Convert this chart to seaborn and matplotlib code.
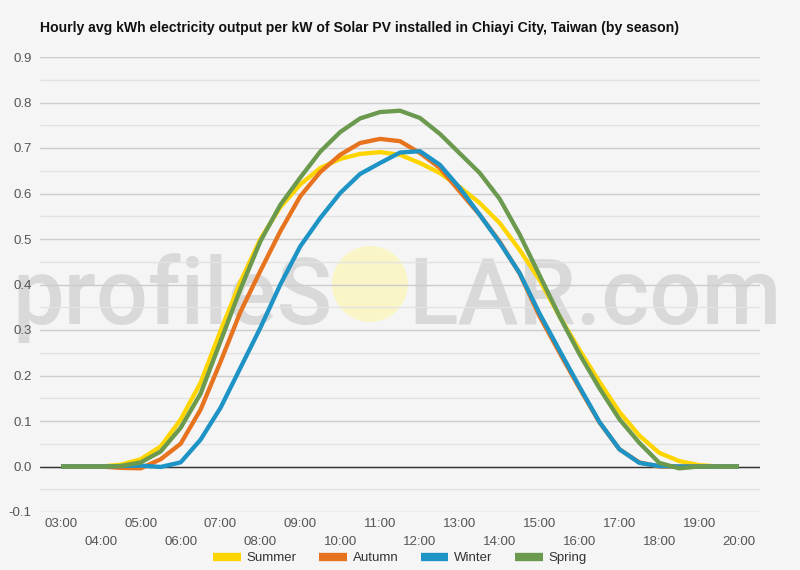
import numpy as np
import pandas as pd
import matplotlib
matplotlib.use("Agg")
import matplotlib.pyplot as plt
from matplotlib.patches import Circle
import seaborn as sns

sns.set_style("white")
plt.rcParams['font.family'] = ['Liberation Sans', 'DejaVu Sans']

# half-hourly readings, 03:00 .. 20:00
hours = np.arange(3.0, 20.5, 0.5)

summer = [0, 0, 0, 0.004, 0.016, 0.044, 0.103, 0.184, 0.298, 0.406, 0.50, 0.57, 0.62, 0.656,
          0.676, 0.687, 0.691, 0.685, 0.667, 0.645, 0.614, 0.579, 0.535, 0.476, 0.41, 0.33,
          0.256, 0.186, 0.12, 0.068, 0.03, 0.012, 0.003, 0, 0]
autumn = [0, 0, 0, -0.003, -0.004, 0.016, 0.05, 0.125, 0.23, 0.34, 0.43, 0.517, 0.594, 0.647,
          0.685, 0.711, 0.72, 0.715, 0.689, 0.656, 0.604, 0.553, 0.494, 0.424, 0.33, 0.25,
          0.172, 0.097, 0.038, 0.009, 0.0, 0, 0, 0, 0]
winter = [0, 0, 0, 0.001, 0.002, -0.001, 0.009, 0.059, 0.129, 0.217, 0.305, 0.40, 0.484, 0.546,
          0.601, 0.643, 0.667, 0.69, 0.693, 0.663, 0.612, 0.553, 0.492, 0.425, 0.336, 0.255,
          0.175, 0.098, 0.038, 0.008, 0.001, 0, 0, 0, 0]
spring = [0, 0, 0, 0.001, 0.009, 0.033, 0.085, 0.16, 0.275, 0.39, 0.495, 0.575, 0.635, 0.692,
          0.735, 0.765, 0.779, 0.782, 0.766, 0.731, 0.688, 0.645, 0.588, 0.51, 0.42, 0.33,
          0.247, 0.172, 0.104, 0.052, 0.008, -0.004, 0, 0, 0]

seasons = ["Summer", "Autumn", "Winter", "Spring"]
colors = ["#FFD500", "#E8731E", "#1E93C5", "#6B9A4E"]

odd_labels = ["03:00", "05:00", "07:00", "09:00", "11:00", "13:00", "15:00", "17:00", "19:00"]
even_labels = ["04:00", "06:00", "08:00", "10:00", "12:00", "14:00", "16:00", "18:00", "20:00"]

title = "Hourly avg kWh electricity output per kW of Solar PV installed in Chiayi City, Taiwan (by season)"

df = pd.DataFrame({
    "hour": np.tile(hours, 4),
    "kwh": summer + autumn + winter + spring,
    "season": np.repeat(seasons, len(hours)),
})

bg = "#f5f5f5"
fig = plt.figure(figsize=(8, 5.7), dpi=100, facecolor=bg)
ax = fig.add_axes([0.05, 58 / 570, 0.90, 455 / 570])
ax.set_facecolor(bg)
ax.set_axisbelow(True)

# watermark behind everything
wm = dict(fontsize=66, color="#d9d9d9", family=["Roboto", "DejaVu Sans"],
          fontweight="medium", va="baseline", zorder=0.2, transform=fig.transFigure,
          clip_on=False)
ax.text(332 / 800, 1 - 324 / 570, "profileS", ha="right", **wm)
ax.text(408 / 800, 1 - 324 / 570, "LAR.com", ha="left", **wm)
ax.add_patch(Circle((3.70, 5.7 - 2.84), 0.38, transform=fig.dpi_scale_trans,
                    facecolor="#faf5c6", edgecolor="none", zorder=0.3, clip_on=False))

sns.lineplot(data=df, x="hour", y="kwh", hue="season", hue_order=seasons,
             palette=colors, linewidth=3.1, ax=ax, solid_capstyle="butt",
             solid_joinstyle="round", zorder=3)

ax.set_xlim(2.474, 20.526)
ax.set_ylim(-0.1, 0.9)
yt = np.round(np.arange(-0.1, 0.91, 0.1), 1)
ax.set_yticks(yt)
ax.set_yticklabels([f"{v:.1f}" for v in yt])
ax.set_yticks(np.round(np.arange(-0.05, 0.9, 0.1), 2), minor=True)
ax.grid(which="major", axis="y", color="#cccccc", linewidth=1)
ax.grid(which="minor", axis="y", color="#e3e3e3", linewidth=1)
ax.grid(axis="x", visible=False)
ax.axhline(0, color="#333333", linewidth=1, zorder=2)

ax.set_xticks(np.arange(3, 20, 2), odd_labels)
ax.set_xticks(np.arange(4, 21, 2), even_labels, minor=True)
ax.tick_params(axis="x", which="major", length=0, pad=4, labelsize=9.5, labelcolor="#555555")
ax.tick_params(axis="x", which="minor", length=0, pad=17.5, labelsize=9.5, labelcolor="#555555")
ax.tick_params(axis="y", which="both", length=0, pad=6, labelsize=9.5, labelcolor="#555555")
ax.set_xlabel("")
ax.set_ylabel("")
for s in ax.spines.values():
    s.set_visible(False)

fig.text(40 / 800, 1 - 28 / 570, title, fontsize=10.1, fontweight="bold", ha="left",
         va="center", color="#111111")

handles, labels = ax.get_legend_handles_labels()
ax.get_legend().remove()
leg = ax.legend(handles, labels, loc="center", bbox_to_anchor=(0.5, 12 / 570),
                bbox_transform=fig.transFigure, ncol=4, frameon=False, fontsize=9.5,
                handlelength=2.1, handletextpad=0.45, columnspacing=1.7)
for h in leg.legend_handles:
    h.set_linewidth(6)
for t in leg.get_texts():
    t.set_color("#333333")

fig.savefig("out.png", dpi=100, facecolor=bg)
